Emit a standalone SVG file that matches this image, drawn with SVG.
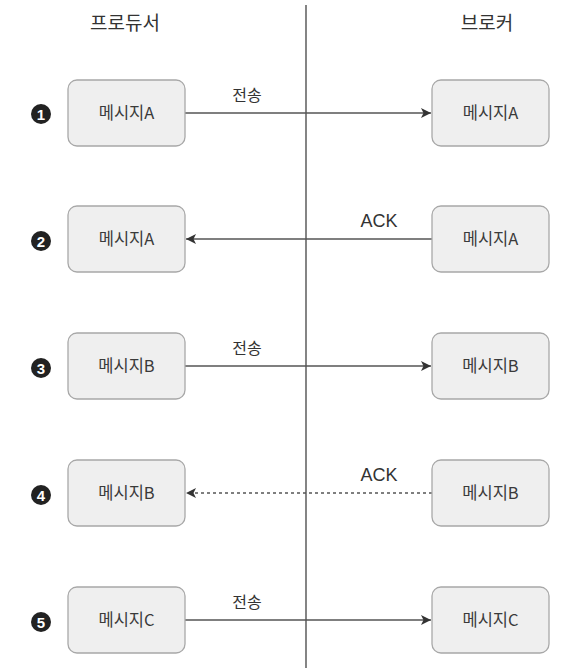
<svg xmlns="http://www.w3.org/2000/svg" width="572" height="668" viewBox="0 0 572 668">
<defs>
<style>
.box{fill:#efefef;stroke:#a8a8a8;stroke-width:1.3}
.bt{font-family:"Noto Sans CJK KR","Noto Sans",sans-serif;font-size:16.5px;fill:#3a3a3a;text-anchor:middle}
.hd{font-family:"Noto Sans CJK KR","Noto Sans",sans-serif;font-size:19px;fill:#333;text-anchor:middle}
.lb{font-family:"Noto Sans CJK KR",sans-serif;font-size:16px;fill:#333;text-anchor:middle}
.ack{font-family:"Liberation Sans",sans-serif;font-size:18px;fill:#333;text-anchor:middle}
.ln{stroke:#555;stroke-width:1.6;fill:none}
.dash{stroke-dasharray:3 3}
.num{fill:#222}
.nt{font-family:"Liberation Sans",sans-serif;font-size:15px;font-weight:bold;fill:#fff;text-anchor:middle}
</style>
<marker id="ah" viewBox="0 0 10 10" refX="10" refY="5" markerWidth="10" markerHeight="10" markerUnits="userSpaceOnUse" orient="auto">
<path d="M0,0 L10,5 L0,10 L2.5,5 Z" fill="#333"/>
</marker>
</defs>
<rect width="572" height="668" fill="#fff"/>
<g id="divider"><line x1="306" y1="5" x2="306" y2="668" stroke="#333" stroke-width="1.2"/></g>
<g id="headers">
<text class="hd" x="125" y="30">프로듀서</text>
<text class="hd" x="487" y="30">브로커</text>
</g>
<g id="connectors">
<line class="ln" x1="185" y1="113" x2="431" y2="113" marker-end="url(#ah)"/>
<text class="lb" x="247" y="101">전송</text>
<line class="ln" x1="432" y1="239" x2="186" y2="239" marker-end="url(#ah)"/>
<text class="ack" x="379" y="227">ACK</text>
<line class="ln" x1="185" y1="366" x2="431" y2="366" marker-end="url(#ah)"/>
<text class="lb" x="247" y="354">전송</text>
<line class="ln dash" x1="432" y1="493" x2="186" y2="493" marker-end="url(#ah)"/>
<text class="ack" x="379" y="481">ACK</text>
<line class="ln" x1="185" y1="620" x2="431" y2="620" marker-end="url(#ah)"/>
<text class="lb" x="247" y="608">전송</text>
</g>
<g id="step1"><circle class="num" cx="41" cy="114" r="10"/><text class="nt" x="41" y="119.5">1</text></g>
<g id="step2"><circle class="num" cx="41" cy="241" r="10"/><text class="nt" x="41" y="246.5">2</text></g>
<g id="step3"><circle class="num" cx="41" cy="368" r="10"/><text class="nt" x="41" y="373.5">3</text></g>
<g id="step4"><circle class="num" cx="41" cy="495" r="10"/><text class="nt" x="41" y="500.5">4</text></g>
<g id="step5"><circle class="num" cx="41" cy="622" r="10"/><text class="nt" x="41" y="627.5">5</text></g>
<g id="p1"><rect class="box" x="68" y="80" width="117" height="66" rx="9"/><text class="bt" x="126.5" y="119">메시지A</text></g>
<g id="b1"><rect class="box" x="432" y="80" width="117" height="66" rx="9"/><text class="bt" x="490.5" y="119">메시지A</text></g>
<g id="p2"><rect class="box" x="68" y="206" width="117" height="66" rx="9"/><text class="bt" x="126.5" y="245">메시지A</text></g>
<g id="b2"><rect class="box" x="432" y="206" width="117" height="66" rx="9"/><text class="bt" x="490.5" y="245">메시지A</text></g>
<g id="p3"><rect class="box" x="68" y="333" width="117" height="66" rx="9"/><text class="bt" x="126.5" y="372">메시지B</text></g>
<g id="b3"><rect class="box" x="432" y="333" width="117" height="66" rx="9"/><text class="bt" x="490.5" y="372">메시지B</text></g>
<g id="p4"><rect class="box" x="68" y="460" width="117" height="66" rx="9"/><text class="bt" x="126.5" y="499">메시지B</text></g>
<g id="b4"><rect class="box" x="432" y="460" width="117" height="66" rx="9"/><text class="bt" x="490.5" y="499">메시지B</text></g>
<g id="p5"><rect class="box" x="68" y="587" width="117" height="66" rx="9"/><text class="bt" x="126.5" y="626">메시지C</text></g>
<g id="b5"><rect class="box" x="432" y="587" width="117" height="66" rx="9"/><text class="bt" x="490.5" y="626">메시지C</text></g>
</svg>
